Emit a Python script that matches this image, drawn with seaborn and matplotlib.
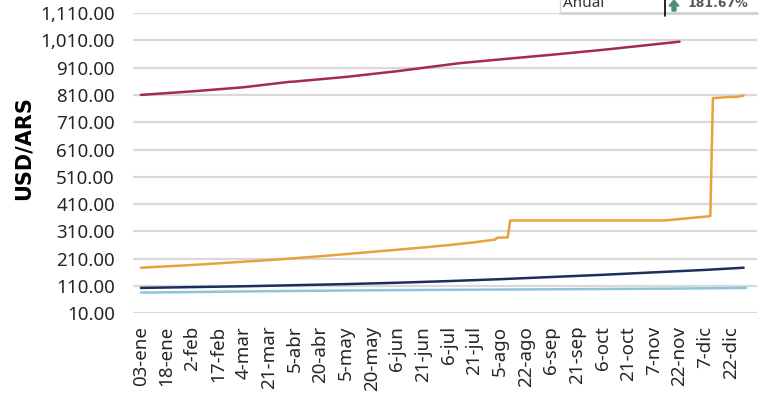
#!/usr/bin/env python3
"""USD/ARS official rate, one line per year, on a shared business-day axis."""
import numpy as np
import pandas as pd
import matplotlib
matplotlib.use('Agg')
import matplotlib.pyplot as plt
import matplotlib.transforms as mtransforms
from matplotlib.patches import FancyArrow
from matplotlib.ticker import FuncFormatter
import seaborn as sns

# tick labels (one every 10 business days)
tick_labels = ['03-ene', '18-ene', '2-feb', '17-feb', '4-mar', '21-mar', '5-abr',
               '20-abr', '5-may', '20-may', '6-jun', '21-jun', '6-jul', '21-jul',
               '5-ago', '22-ago', '6-sep', '21-sep', '6-oct', '21-oct', '7-nov',
               '22-nov', '7-dic', '22-dic']

# series: business-day index -> USD/ARS
idx_2021 = [0, 20, 40, 60, 80, 100, 120, 140, 160, 180, 200, 220, 236]
val_2021 = [86, 88, 90, 92, 93.5, 95, 96, 97, 98, 99, 100, 101.5, 103]

idx_2022 = [0, 20, 40, 60, 80, 100, 120, 140, 160, 180, 200, 220, 235]
val_2022 = [103, 106, 109, 113, 117, 122, 128, 135, 143, 151, 160, 169, 177]

idx_2023 = [0, 10, 20, 30, 40, 50, 60, 70, 80, 90, 100, 110, 120, 130, 138, 139,
            143, 144, 204, 222, 223, 230, 232, 235]
val_2023 = [177, 182, 187, 193, 199, 205, 212, 219, 227, 235, 243, 251, 260, 270,
            280, 287, 288, 350, 350, 366, 798, 803, 802, 808]

idx_2024 = [0, 20, 40, 58, 60, 80, 100, 124, 140, 160, 180, 200, 210]
val_2024 = [810, 823, 838, 858, 859, 876, 897, 926, 940, 957, 975, 995, 1005]

series = {'2021': (idx_2021, val_2021), '2022': (idx_2022, val_2022),
          '2023': (idx_2023, val_2023), '2024': (idx_2024, val_2024)}
palette = {'2021': '#8DC4D9', '2022': '#1F2D5C', '2023': '#E9A23B', '2024': '#A3285B'}

df = pd.concat([pd.DataFrame({'idx': i, 'valor': v, 'serie': k})
                for k, (i, v) in series.items()], ignore_index=True)

sns.set_theme(style='white')
plt.rcParams['font.family'] = ['Noto Sans', 'DejaVu Sans']

fig = plt.figure(figsize=(7.7, 3.98), dpi=100)
ax = fig.add_axes([0.1727, 0.2128, 0.8104, 0.7545])

sns.lineplot(data=df, x='idx', y='valor', hue='serie', palette=palette,
             linewidth=1.8, legend=False, ax=ax)

ax.set_ylim(10, 1110)
ax.set_xlim(-3.1, 240.2)
ax.set_yticks(np.arange(10, 1111, 100))
ax.yaxis.set_major_formatter(FuncFormatter(lambda v, _: f'{v:,.2f}'))
ax.set_xticks(np.arange(0, 10 * len(tick_labels), 10))
ax.set_xticklabels(tick_labels, rotation=90, va='top', ha='center')
ax.tick_params(axis='both', length=0, labelsize=13.5, colors='#262626')
ax.tick_params(axis='y', pad=13)
ax.tick_params(axis='x', pad=9)
ax.grid(axis='y', color='#d9d9d9', linewidth=1.6)
ax.grid(axis='x', visible=False)
for s in ax.spines.values():
    s.set_visible(False)
ax.set_xlabel('')
ax.set_ylabel('')

fig.text(24 / 770, 1 - 148 / 398, 'USD/ARS', rotation=90, ha='center', va='center',
         fontsize=15, fontweight='black', color='black', family='DejaVu Sans')

# cropped summary table in the corner
H = 398
fig.add_artist(plt.Line2D([560 / 770, 757 / 770], [(H - 13.3) / H] * 2,
                          transform=fig.transFigure, color='#d0d0d0', lw=2))
fig.add_artist(plt.Line2D([560 / 770] * 2, [(H - 13.3) / H, 1.0],
                          transform=fig.transFigure, color='#d9d9d9', lw=1))
fig.add_artist(plt.Line2D([665 / 770] * 2, [(H - 15.7) / H, 1.0],
                          transform=fig.transFigure, color='black', lw=1.2))
fig.text(563 / 770, (H - 7) / H, 'Anual', fontsize=11, color='#333333', va='baseline')
fig.text(748 / 770, (H - 7) / H, '181.67%', fontsize=9, fontweight='bold',
         color='#595959', va='baseline', ha='right', family='DejaVu Sans')
fig.add_artist(FancyArrow(674, H - 11, 0, 11, width=4, head_width=10, head_length=6,
                          length_includes_head=True, color='#4F8F74',
                          transform=mtransforms.IdentityTransform()))

fig.savefig('out.png', dpi=100)
